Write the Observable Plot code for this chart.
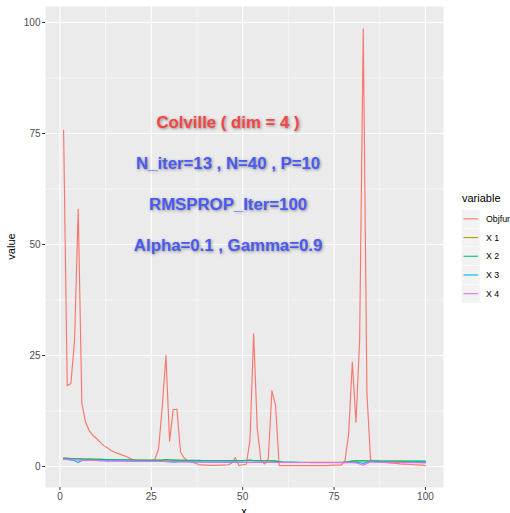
<!DOCTYPE html>
<html>
<head>
<meta charset="utf-8">
<script src="https://cdn.jsdelivr.net/npm/d3@7"></script>
<script src="https://cdn.jsdelivr.net/npm/@observablehq/plot@0.6"></script>
<style>
  html, body { margin: 0; padding: 0; overflow: hidden; background: white; }
  #chart { position: relative; width: 510px; height: 513px; }
</style>
</head>
<body>
<div id="chart"></div>
<script>
const seriesNames = ["Objfunc", "X 1", "X 2", "X 3", "X 4"];
const seriesColors = ["#F8766D", "#A3A500", "#00BF7D", "#00B0F6", "#E76BF3"];
const xTicks = [0, 25, 50, 75, 100];
const yTicks = [0, 25, 50, 75, 100];
const minorTicks = [12.5, 37.5, 62.5, 87.5];

const objfunc = [
  75.7, 18.2, 18.7, 28.4, 57.9, 14.2, 10.0, 8.1, 7.0, 6.3,
  5.5, 4.7, 4.2, 3.6, 3.2, 2.9, 2.6, 2.3, 1.9, 1.5,
  1.3, 1.2, 1.2, 1.2, 1.2, 1.7, 4.0, 13.5, 25.0, 5.7,
  12.8, 12.9, 3.2, 1.9, 1.3, 1.0, 0.75, 0.45, 0.3, 0.3,
  0.25, 0.25, 0.25, 0.3, 0.3, 0.4, 0.75, 2.0, 0.2, 0.4,
  0.5, 5.9, 29.9, 8.5, 1.35, 0.6, 1.7, 17.1, 13.7, 0.2,
  0.2, 0.2, 0.2, 0.2, 0.2, 0.2, 0.2, 0.2, 0.2, 0.2,
  0.2, 0.2, 0.2, 0.25, 0.3, 0.3, 0.3, 1.35, 7.4, 23.5,
  10.0, 28.4, 98.6, 16.4, 1.5, 1.2, 1.1, 1.0, 0.9, 0.8,
  0.75, 0.7, 0.6, 0.55, 0.5, 0.45, 0.4, 0.35, 0.3, 0.2
];
const x1 = [
  1.87, 1.82, 1.77, 1.75, 1.72, 1.69, 1.67, 1.65, 1.63, 1.61,
  1.59, 1.57, 1.55, 1.53, 1.52, 1.5, 1.49, 1.47, 1.46, 1.45,
  1.44, 1.43, 1.42, 1.41, 1.4, 1.39, 1.39, 1.42, 1.5, 1.47,
  1.42, 1.39, 1.37, 1.37, 1.35, 1.35, 1.34, 1.34, 1.33, 1.33,
  1.32, 1.32, 1.32, 1.31, 1.31, 1.31, 1.3, 1.32, 1.3, 1.29,
  1.36, 1.4, 1.32, 1.29, 1.29, 1.27, 1.27, 1.25, 1.22, 1.07,
  0.97, 0.95, 0.94, 0.94, 0.93, 0.93, 0.92, 0.92, 0.92, 0.92,
  0.92, 0.92, 0.92, 0.92, 0.92, 0.92, 0.92, 0.97, 1.07, 1.22,
  1.22, 1.27, 1.32, 1.27, 1.22, 1.22, 1.22, 1.21, 1.21, 1.21,
  1.2, 1.2, 1.2, 1.19, 1.19, 1.19, 1.19, 1.18, 1.18, 1.18
];
const x2 = [
  1.9, 1.85, 1.8, 1.78, 1.75, 1.72, 1.7, 1.68, 1.66, 1.64,
  1.62, 1.6, 1.58, 1.56, 1.55, 1.53, 1.52, 1.5, 1.49, 1.48,
  1.47, 1.46, 1.45, 1.44, 1.43, 1.42, 1.42, 1.45, 1.55, 1.5,
  1.45, 1.42, 1.4, 1.4, 1.38, 1.38, 1.37, 1.37, 1.36, 1.36,
  1.35, 1.35, 1.35, 1.34, 1.34, 1.34, 1.33, 1.35, 1.33, 1.32,
  1.4, 1.45, 1.35, 1.32, 1.32, 1.3, 1.3, 1.28, 1.25, 1.1,
  0.95, 0.93, 0.92, 0.92, 0.91, 0.91, 0.9, 0.9, 0.9, 0.9,
  0.9, 0.9, 0.9, 0.9, 0.9, 0.9, 0.9, 1.0, 1.1, 1.25,
  1.25, 1.3, 1.35, 1.3, 1.25, 1.25, 1.25, 1.24, 1.24, 1.24,
  1.23, 1.23, 1.23, 1.22, 1.22, 1.22, 1.22, 1.21, 1.21, 1.21
];
const x3 = [
  1.7, 1.65, 1.5, 1.3, 0.9, 1.35, 1.4, 1.38, 1.36, 1.34,
  1.32, 1.3, 1.28, 1.27, 1.26, 1.25, 1.24, 1.23, 1.22, 1.21,
  1.2, 1.19, 1.18, 1.17, 1.16, 1.15, 1.14, 1.13, 1.12, 1.1,
  1.0, 1.05, 1.08, 1.07, 1.06, 1.05, 1.04, 1.03, 1.02, 1.01,
  1.0, 1.0, 0.99, 0.99, 0.98, 0.98, 0.97, 0.97, 0.96, 0.96,
  0.95, 0.95, 0.95, 0.95, 0.94, 0.94, 0.9, 0.94, 0.93, 0.93,
  0.93, 0.92, 0.92, 0.92, 0.92, 0.91, 0.91, 0.91, 0.91, 0.9,
  0.9, 0.9, 0.9, 0.9, 0.9, 0.9, 0.9, 0.9, 0.9, 0.95,
  1.0, 0.9, 0.7, 1.0, 1.05, 1.05, 1.0, 1.0, 0.98, 0.98,
  0.97, 0.97, 0.96, 0.96, 0.95, 0.95, 0.95, 0.94, 0.94, 0.94
];
const x4 = [
  1.6, 1.55, 1.5, 1.48, 1.45, 1.42, 1.4, 1.38, 1.36, 1.34,
  1.32, 1.3, 1.28, 1.27, 1.26, 1.25, 1.24, 1.22, 1.21, 1.2,
  1.19, 1.18, 1.17, 1.16, 1.15, 1.14, 1.13, 1.12, 1.11, 1.1,
  1.08, 1.07, 1.06, 1.05, 1.04, 1.03, 1.02, 1.01, 1.0, 1.0,
  0.99, 0.99, 0.98, 0.98, 0.97, 0.97, 0.96, 0.96, 0.95, 0.95,
  0.94, 0.94, 0.93, 0.93, 0.92, 0.92, 0.92, 0.91, 0.91, 0.91,
  0.9, 0.9, 0.9, 0.9, 0.89, 0.89, 0.89, 0.89, 0.88, 0.88,
  0.88, 0.88, 0.88, 0.88, 0.87, 0.87, 0.87, 0.87, 0.87, 0.85,
  0.8, 0.6, 0.3, 0.7, 1.1, 1.05, 1.0, 0.98, 0.96, 0.94,
  0.92, 0.9, 0.89, 0.88, 0.87, 0.86, 0.85, 0.84, 0.83, 0.82
];
const allSeries = [objfunc, x1, x2, x3, x4];

const annotationTexts = ["Colville ( dim = 4 )", "N_iter=13 , N=40 , P=10", "RMSPROP_Iter=100", "Alpha=0.1 , Gamma=0.9"];
const annotationX = [46, 46, 46, 46];
const annotationY = [77.5, 68.2, 58.9, 49.8];
const annotationColors = ["#F24646", "#4A5AF4", "#4A5AF4", "#4A5AF4"];

const data = seriesNames.flatMap((name, i) =>
  allSeries[i].map((v, j) => ({x: j + 1, value: v, variable: name}))
);
const annotations = annotationTexts.map((t, i) => ({text: t, x: annotationX[i], y: annotationY[i], color: annotationColors[i]}));

const font = "'Liberation Sans', Arial, sans-serif";

const chart = Plot.plot({
  width: 510,
  height: 513,
  marginLeft: 45,
  marginRight: 67,
  marginTop: 6,
  marginBottom: 26,
  style: {background: "white", fontFamily: font, overflow: "hidden"},
  x: {domain: [-3.95, 104.95], label: null},
  y: {domain: [-4.73, 103.6], label: null},
  color: {domain: seriesNames, range: seriesColors},
  marks: [
    Plot.frame({fill: "#EBEBEB", stroke: null}),
    Plot.gridX(minorTicks, {stroke: "white", strokeOpacity: 1, strokeWidth: 0.55}),
    Plot.gridY(minorTicks, {stroke: "white", strokeOpacity: 1, strokeWidth: 0.55}),
    Plot.gridX(xTicks, {stroke: "white", strokeOpacity: 1, strokeWidth: 1.1}),
    Plot.gridY(yTicks, {stroke: "white", strokeOpacity: 1, strokeWidth: 1.1}),
    Plot.axisX(xTicks, {tickSize: 3, tickPadding: 2, stroke: "#333333", fill: "#4D4D4D", fontSize: 10, label: null}),
    Plot.axisY(yTicks, {tickSize: 3, tickPadding: 2, stroke: "#333333", fill: "#4D4D4D", fontSize: 10, label: null}),
    Plot.line(data, {x: "x", y: "value", z: "variable", stroke: "variable", strokeWidth: 1.15}),
    Plot.text(annotations, {x: "x", y: "y", text: "text", fill: "color", fontWeight: "bold", fontSize: 16.8, textAnchor: "middle", lineAnchor: "middle"})
  ]
});

document.getElementById("chart").appendChild(chart);

const svg = d3.select(chart);
// text shadow on annotations
svg.selectAll("g[aria-label='text'] text").style("text-shadow", "1px 1px 3px rgba(60,60,60,0.55)");

// axis titles
svg.append("text").attr("x", 244).attr("y", 515).attr("text-anchor", "middle")
  .attr("font-size", 11).attr("fill", "black").attr("font-family", font).text("x");
svg.append("text").attr("transform", "translate(15,246.5) rotate(-90)").attr("text-anchor", "middle")
  .attr("font-size", 11).attr("fill", "black").attr("font-family", font).text("value");

// legend
const lg = svg.append("g").attr("font-family", font).attr("text-anchor", "start");
lg.append("text").attr("x", 462).attr("y", 202).attr("font-size", 11).attr("fill", "black").text("variable");
const keyTop = 209.5, keyH = 18.7;
seriesNames.forEach((name, i) => {
  const cy = keyTop + keyH * i + keyH / 2;
  lg.append("rect").attr("x", 461.5).attr("y", keyTop + keyH * i).attr("width", 18.5).attr("height", keyH)
    .attr("fill", "#F2F2F2").attr("stroke", "white").attr("stroke-width", 0.5);
  lg.append("line").attr("x1", 463.5).attr("x2", 478).attr("y1", cy).attr("y2", cy)
    .attr("stroke", seriesColors[i]).attr("stroke-width", 1.1);
  lg.append("text").attr("x", 486).attr("y", cy).attr("dy", "0.35em").attr("font-size", 8.8)
    .attr("fill", "black").text(name);
});
</script>
</body>
</html>
